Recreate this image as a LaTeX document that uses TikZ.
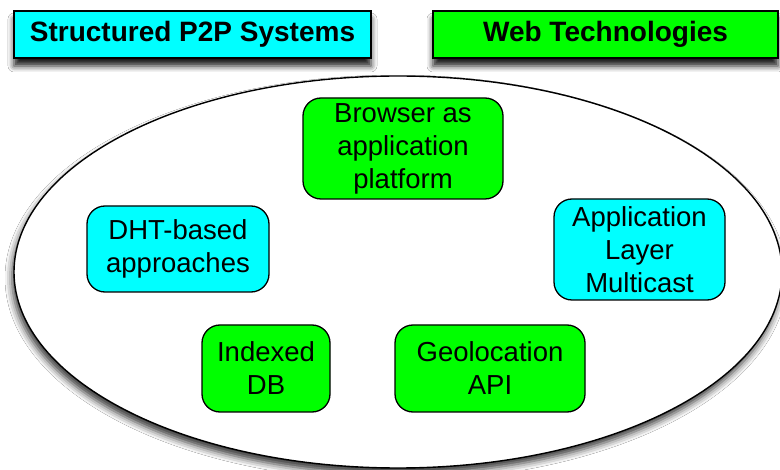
\documentclass[tikz,border=0pt]{standalone}
\usepackage{fontspec}
\setmainfont{Liberation Sans}
\usetikzlibrary{shapes.geometric,shadows.blur}
\definecolor{aqua}{RGB}{0,255,255}
\definecolor{lime}{RGB}{0,255,0}
\tikzset{
  topic/.style={draw=black, line width=1.4pt, minimum height=47pt, inner sep=0pt,
    font=\fontsize{28}{33}\selectfont\bfseries,
    blur shadow={shadow xshift=0pt, shadow yshift=-8pt, shadow blur radius=6pt, shadow opacity=90}},
  item/.style={draw=black, line width=1.3pt, rounded corners=18pt, inner sep=0pt, align=center,
    font=\fontsize{27.5}{33}\selectfont},
  p2p/.style={item, fill=aqua},
  web/.style={item, fill=lime},
}
\begin{document}
\begin{tikzpicture}[x=1pt,y=-1pt]
\useasboundingbox[fill=white] (0,0) rectangle (780,470);
% common area of both fields
\node[draw=black, line width=1.4pt, fill=white, ellipse, minimum width=768pt, minimum height=392pt, inner sep=0pt,
  blur shadow={shadow xshift=-2pt, shadow yshift=-6pt, shadow blur radius=7pt, shadow opacity=80}]
  (area) at (398,272) {};
% field headings
\node[topic, fill=aqua, minimum width=357pt] (p2ptitle) at (192.5,34.5) {Structured P2P Systems};
\node[topic, fill=lime, minimum width=345pt] (webtitle) at (605.5,34.5) {Web Technologies};
% topics
\node[web, minimum width=200pt, minimum height=101pt] (browser) at (403,148.5) {Browser as\\application\\platform};
\node[p2p, minimum width=182pt, minimum height=86pt] (dht) at (178,249) {DHT-based\\approaches};
\node[p2p, minimum width=171pt, minimum height=101pt] (alm) at (639.5,249.5) {Application\\Layer\\Multicast};
\node[web, minimum width=128pt, minimum height=87pt] (idb) at (266,368.5) {Indexed\\DB};
\node[web, minimum width=190pt, minimum height=87pt] (geo) at (490,368.5) {Geolocation\\API};
\end{tikzpicture}
\end{document}
